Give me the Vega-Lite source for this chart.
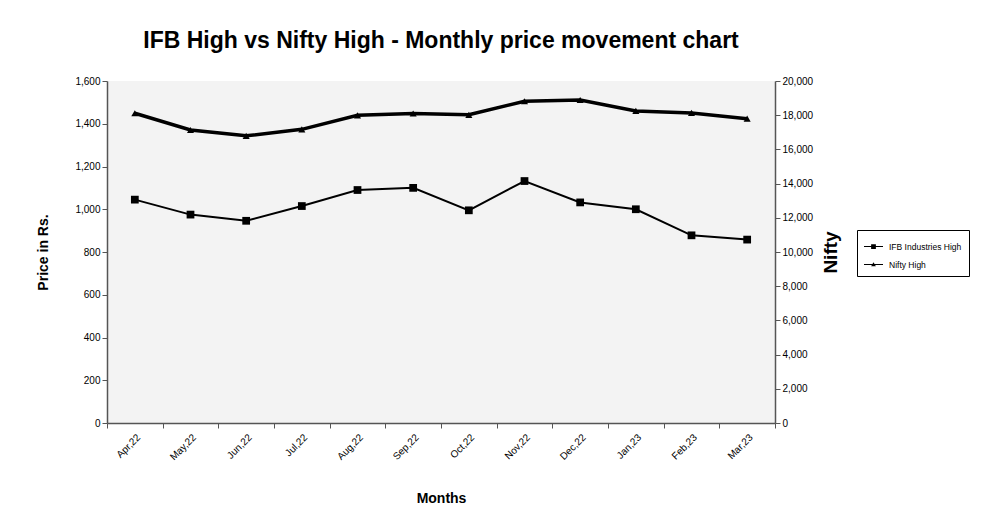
{
  "$schema": "https://vega.github.io/schema/vega-lite/v6.json",
  "autosize": {"type": "none"},
  "padding": {"left": 107, "top": 81, "right": 206, "bottom": 102},
  "width": 668,
  "height": 342,
  "background": "white",
  "title": {
    "text": "IFB High vs Nifty High - Monthly price movement chart",
    "font": "Liberation Sans",
    "fontSize": 23,
    "fontWeight": "bold",
    "color": "black",
    "anchor": "middle",
    "offset": 23
  },
  "config": {
    "view": {"fill": "#f3f3f3", "stroke": null},
    "axis": {
      "labelFont": "Liberation Sans",
      "titleFont": "Liberation Sans",
      "labelColor": "black",
      "titleColor": "black",
      "domainColor": "#555555",
      "tickColor": "#555555",
      "grid": false
    }
  },
  "data": {
    "values": [
      {"month": "Apr,22", "ifb": 1045, "nifty": 18115},
      {"month": "May,22", "ifb": 975, "nifty": 17132},
      {"month": "Jun,22", "ifb": 946, "nifty": 16794},
      {"month": "Jul,22", "ifb": 1015, "nifty": 17172},
      {"month": "Aug,22", "ifb": 1090, "nifty": 17992},
      {"month": "Sep,22", "ifb": 1100, "nifty": 18096},
      {"month": "Oct,22", "ifb": 995, "nifty": 18022},
      {"month": "Nov,22", "ifb": 1132, "nifty": 18816},
      {"month": "Dec,22", "ifb": 1032, "nifty": 18888},
      {"month": "Jan,23", "ifb": 1000, "nifty": 18251},
      {"month": "Feb,23", "ifb": 878, "nifty": 18134},
      {"month": "Mar,23", "ifb": 858, "nifty": 17799}
    ]
  },
  "encoding": {
    "x": {
      "field": "month",
      "type": "ordinal",
      "sort": null,
      "title": "Months",
      "axis": {
        "labelAngle": -45,
        "labelFontSize": 10,
        "titleFontSize": 14,
        "titleFontWeight": "bold",
        "titlePadding": 30,
        "tickBand": "extent",
        "tickSize": 5,
        "labelPadding": 4,
        "domainWidth": 1.5
      }
    }
  },
  "layer": [
    {
      "mark": {"type": "line", "strokeWidth": 2, "point": {"shape": "square", "size": 60, "filled": true}},
      "encoding": {
        "y": {
          "field": "ifb",
          "type": "quantitative",
          "title": "Price in Rs.",
          "scale": {"domain": [0, 1600]},
          "axis": {
            "values": [0, 200, 400, 600, 800, 1000, 1200, 1400, 1600],
            "format": ",d",
            "labelFontSize": 10,
            "titleFontSize": 14,
            "titleFontWeight": "bold",
            "titlePadding": 24,
            "tickSize": 5,
            "domainWidth": 1.5
          }
        },
        "color": {"datum": "IFB Industries High", "type": "nominal", "scale": {"domain": ["IFB Industries High", "Nifty High"], "range": ["black", "black"]},
          "legend": {
            "title": null,
            "orient": "none",
            "legendX": 750,
            "legendY": 149,
            "strokeColor": "black",
            "padding": 7,
            "labelFont": "Liberation Sans",
            "labelFontSize": 8.5,
            "labelColor": "black",
            "symbolSize": 361,
            "rowPadding": 4,
            "labelOffset": 6,
            "fillColor": "white",
            "encode": {
              "symbols": {
                "update": {
                  "shape": {"signal": "datum.value === 'IFB Industries High' ? 'M-1,-0.06L1,-0.06L1,0.06L-1,0.06Z M-0.25,-0.25L0.25,-0.25L0.25,0.25L-0.25,0.25Z' : 'M-1,-0.06L1,-0.06L1,0.06L-1,0.06Z M0,-0.25L0.25,0.18L-0.25,0.18Z'"},
                  "fill": {"value": "black"},
                  "stroke": {"value": "black"},
                  "strokeWidth": {"value": 0}
                }
              }
            }
          }
        }
      }
    },
    {
      "mark": {"type": "line", "strokeWidth": 3.5, "point": {"shape": "triangle-up", "size": 50, "filled": true}},
      "encoding": {
        "y": {
          "field": "nifty",
          "type": "quantitative",
          "title": "Nifty",
          "scale": {"domain": [0, 20000]},
          "axis": {
            "orient": "right",
            "values": [0, 2000, 4000, 6000, 8000, 10000, 12000, 14000, 16000, 18000, 20000],
            "format": ",d",
            "labelFontSize": 10,
            "titleFontSize": 19,
            "titleFontWeight": "bold",
            "titleAngle": 270,
            "titlePadding": 28,
            "tickSize": 5,
            "domainWidth": 1.5
          }
        },
        "color": {"datum": "Nifty High", "type": "nominal"}
      }
    }
  ],
  "resolve": {"scale": {"y": "independent"}}
}
